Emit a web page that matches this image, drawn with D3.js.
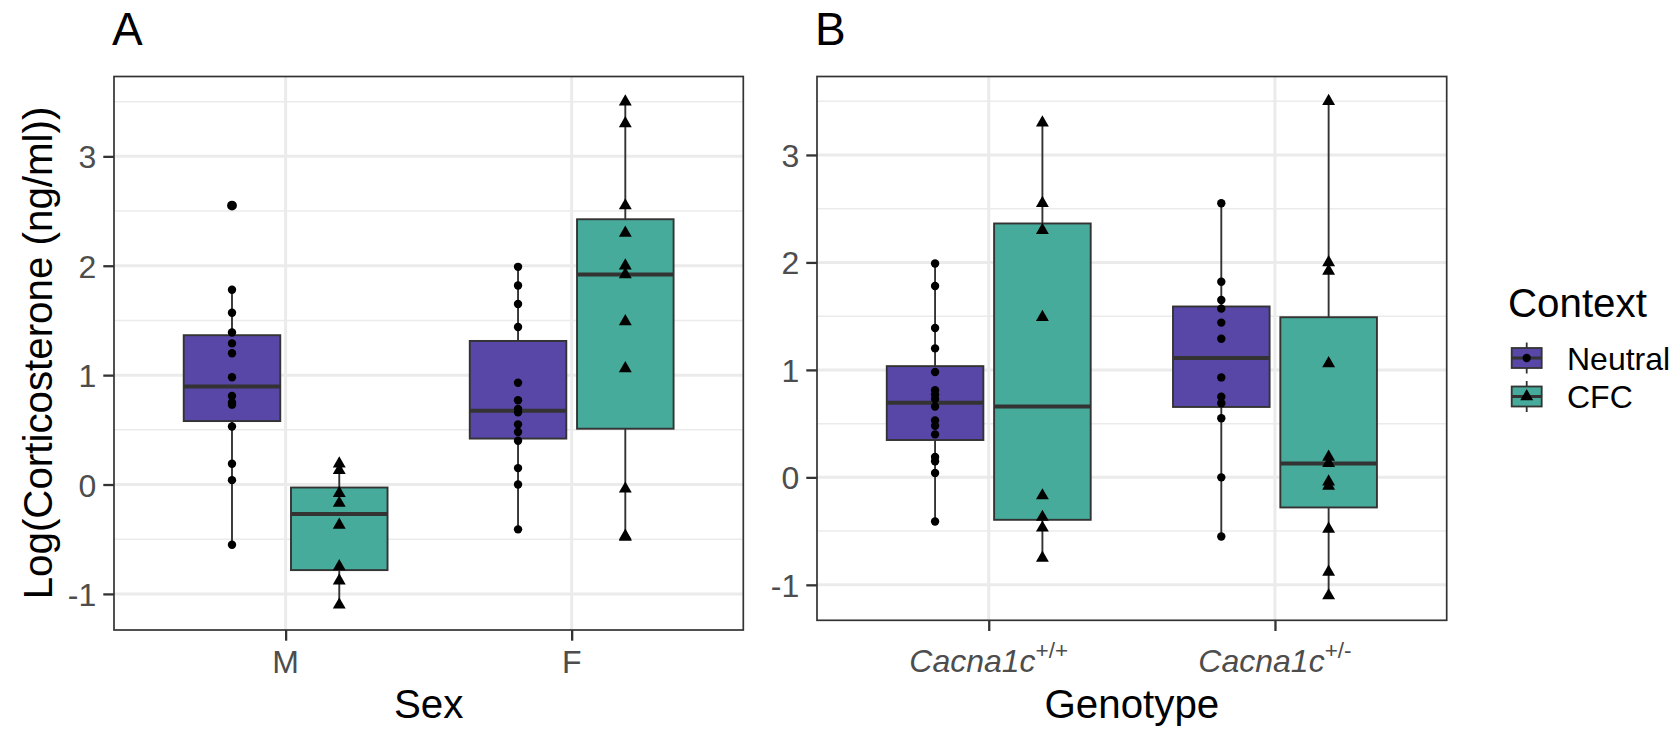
<!DOCTYPE html>
<html><head><meta charset="utf-8">
<script src="https://cdn.jsdelivr.net/npm/d3@7"></script>
<style>
body{margin:0;background:#fff}
text{font-family:"Liberation Sans",Arial,Helvetica,sans-serif}
</style>
</head><body>
<svg id="chart" width="1680" height="730"></svg>
<script>
// ---------------- data ----------------
const contexts = ["Neutral", "CFC"];
const contextColors = ["#5947A8", "#46AB9A"];
const sexes = ["M", "F"];
const genotypes = ["+/+", "+/-"];
const yTicks = [-1, 0, 1, 2, 3];

// Log(corticosterone) per context x sex x genotype
const neutralMaleWT    = [1.78, 1.39, 1.20, 0.98, 0.81, 0.73, 0.53, 0.19, 0.04];
const neutralMaleHet   = [2.55, 1.57, 1.29, 0.75, -0.55];
const neutralFemaleWT  = [1.99, 0.77, 0.66, 0.48, 0.40, 0.15, -0.41];
const neutralFemaleHet = [1.82, 1.65, 1.44, 0.93, 0.69, 0.55, 0.00];
const cfcMaleWT        = [-0.17, -0.37, -0.75];
const cfcMaleHet       = [0.19, 0.13, -0.08, -0.88, -1.10];
const cfcFemaleWT      = [3.30, 2.55, 2.30, 1.49, -0.47];
const cfcFemaleHet     = [3.50, 2.00, 1.92, 1.06, -0.04, -0.48];

const rows = [];
function addRows(arr, context, sex, genotype){ arr.forEach(v => rows.push({context, sex, genotype, value: v})); }
addRows(neutralMaleWT, "Neutral", "M", "+/+");
addRows(neutralMaleHet, "Neutral", "M", "+/-");
addRows(neutralFemaleWT, "Neutral", "F", "+/+");
addRows(neutralFemaleHet, "Neutral", "F", "+/-");
addRows(cfcMaleWT, "CFC", "M", "+/+");
addRows(cfcMaleHet, "CFC", "M", "+/-");
addRows(cfcFemaleWT, "CFC", "F", "+/+");
addRows(cfcFemaleHet, "CFC", "F", "+/-");

// ---------------- drawing ----------------
const svg = d3.select("#chart");
const color = d3.scaleOrdinal().domain(contexts).range(contextColors);
const ext = d3.extent(rows, d => d.value);
const pad = (ext[1] - ext[0]) * 0.05;
const yDomain = [ext[0] - pad, ext[1] + pad];

const INK = "#333333";
const TICKCOL = "#4D4D4D";
const GRID = "#EBEBEB";
const TITLE_FS = 40.3, LABEL_FS = 32;

function boxStats(vals){
  const s = vals.slice().sort(d3.ascending);
  const q1 = d3.quantile(s, 0.25), med = d3.quantile(s, 0.5), q3 = d3.quantile(s, 0.75);
  const iqr = q3 - q1;
  const inside = s.filter(v => v >= q1 - 1.5 * iqr && v <= q3 + 1.5 * iqr);
  return {q1, med, q3, lo: d3.min(inside), hi: d3.max(inside),
          out: s.filter(v => v < q1 - 1.5 * iqr || v > q3 + 1.5 * iqr)};
}

const triSym = d3.symbol().type(d3.symbolTriangle).size(72);

function drawPoint(g, cx, cy, context, r){
  if (context === "Neutral"){
    g.append("circle").attr("cx", cx).attr("cy", cy).attr("r", r || 4.2).attr("fill", "#000");
  } else {
    g.append("path").attr("d", triSym).attr("transform", `translate(${cx},${cy})`).attr("fill", "#000");
  }
}

function drawPanel(o){
  const g = svg.append("g");
  const x = d3.scalePoint().domain(o.cats).range([o.x0, o.x1]).padding(0.6);
  const y = d3.scaleLinear().domain(yDomain).range([o.y1, o.y0]);
  const step = x.step();

  // grid
  const minor = d3.range(Math.ceil(yDomain[0] - 0.5) + 0.5, yDomain[1], 1);
  g.selectAll(".minor").data(minor).join("line")
    .attr("x1", o.x0).attr("x2", o.x1).attr("y1", d => y(d)).attr("y2", d => y(d))
    .attr("stroke", GRID).attr("stroke-width", 1.5);
  g.selectAll(".major").data(yTicks).join("line")
    .attr("x1", o.x0).attr("x2", o.x1).attr("y1", d => y(d)).attr("y2", d => y(d))
    .attr("stroke", GRID).attr("stroke-width", 3);
  g.selectAll(".vmajor").data(o.cats).join("line")
    .attr("x1", d => x(d)).attr("x2", d => x(d)).attr("y1", o.y0).attr("y2", o.y1)
    .attr("stroke", GRID).attr("stroke-width", 3);

  // boxes
  const bw = 0.3375 * step;
  o.cats.forEach(cat => {
    contexts.forEach((ctx, ci) => {
      const vals = rows.filter(r => r[o.key] === cat && r.context === ctx).map(r => r.value);
      const st = boxStats(vals);
      const cx = x(cat) + (ci === 0 ? -0.1875 : 0.1875) * step;
      const gb = g.append("g");
      gb.append("line").attr("x1", cx).attr("x2", cx).attr("y1", y(st.hi)).attr("y2", y(st.q3))
        .attr("stroke", INK).attr("stroke-width", 1.9);
      gb.append("line").attr("x1", cx).attr("x2", cx).attr("y1", y(st.q1)).attr("y2", y(st.lo))
        .attr("stroke", INK).attr("stroke-width", 1.9);
      gb.append("rect").attr("x", cx - bw / 2).attr("width", bw)
        .attr("y", y(st.q3)).attr("height", y(st.q1) - y(st.q3))
        .attr("fill", color(ctx)).attr("stroke", INK).attr("stroke-width", 1.9);
      gb.append("line").attr("x1", cx - bw / 2).attr("x2", cx + bw / 2)
        .attr("y1", y(st.med)).attr("y2", y(st.med)).attr("stroke", INK).attr("stroke-width", 4);
      st.out.forEach(v => drawPoint(gb, cx, y(v), "Neutral", 4.9));
      vals.forEach(v => drawPoint(gb, cx, y(v), ctx));
    });
  });

  // border
  g.append("rect").attr("x", o.x0).attr("y", o.y0).attr("width", o.x1 - o.x0).attr("height", o.y1 - o.y0)
    .attr("fill", "none").attr("stroke", INK).attr("stroke-width", 1.7);

  // y axis
  const ya = g.append("g").attr("transform", `translate(${o.x0},0)`)
    .call(d3.axisLeft(y).tickValues(yTicks).tickSize(10.7).tickPadding(7).tickFormat(d => String(d)));
  ya.select(".domain").remove();
  ya.selectAll(".tick line").attr("stroke", INK).attr("stroke-width", 2.3);
  ya.selectAll(".tick text").attr("fill", TICKCOL).attr("font-size", LABEL_FS).attr("dy", "0.36em");

  // x axis
  const xa = g.append("g").attr("transform", `translate(0,${o.y1})`)
    .call(d3.axisBottom(x).tickSize(10.7).tickFormat(""));
  xa.select(".domain").remove();
  xa.selectAll(".tick line").attr("stroke", INK).attr("stroke-width", 2.3);
  o.cats.forEach(cat => {
    const t = g.append("text").attr("x", x(cat)).attr("y", o.labelY).attr("text-anchor", "middle")
      .attr("fill", TICKCOL).attr("font-size", LABEL_FS);
    o.labelFn(t, cat);
  });

  // titles
  g.append("text").attr("x", (o.x0 + o.x1) / 2).attr("y", 718).attr("text-anchor", "middle")
    .attr("font-size", TITLE_FS).attr("fill", "#000").text(o.xTitle);
  g.append("text").attr("x", o.x0 - 2).attr("y", 45).attr("font-size", 46).attr("fill", "#000").text(o.tag);
}

drawPanel({x0: 114, x1: 743.3, y0: 76.5, y1: 630, cats: sexes, key: "sex", tag: "A", xTitle: "Sex", labelY: 673,
  labelFn: (t, c) => t.text(c)});
drawPanel({x0: 817, x1: 1446.7, y0: 76.5, y1: 620.3, cats: genotypes, key: "genotype", tag: "B", xTitle: "Genotype", labelY: 672,
  labelFn: (t, c) => {
    t.append("tspan").attr("font-style", "italic").text("Cacna1c");
    t.append("tspan").attr("font-size", 22.5).attr("dy", -14).text(c);
  }});

// y axis title
svg.append("text").attr("transform", "translate(52,353) rotate(-90)").attr("text-anchor", "middle")
  .attr("font-size", TITLE_FS).attr("fill", "#000").text("Log(Corticosterone (ng/ml))");

// legend
const lg = svg.append("g");
lg.append("text").attr("x", 1508).attr("y", 317).attr("font-size", TITLE_FS).attr("fill", "#000").text("Context");
contexts.forEach((ctx, i) => {
  const cy = 358 + i * 38.5, cx = 1526.7;
  lg.append("line").attr("x1", cx).attr("x2", cx).attr("y1", cy - 15.5).attr("y2", cy + 15.5)
    .attr("stroke", INK).attr("stroke-width", 1.8);
  lg.append("rect").attr("x", cx - 15).attr("y", cy - 10).attr("width", 30).attr("height", 20)
    .attr("fill", color(ctx)).attr("stroke", INK).attr("stroke-width", 1.8);
  lg.append("line").attr("x1", cx - 15).attr("x2", cx + 15).attr("y1", cy).attr("y2", cy)
    .attr("stroke", INK).attr("stroke-width", 3);
  drawPoint(lg, cx, cy, ctx);
  lg.append("text").attr("x", 1567).attr("y", cy + 11.5).attr("font-size", LABEL_FS).attr("fill", "#000").text(ctx);
});
</script>
</body></html>
